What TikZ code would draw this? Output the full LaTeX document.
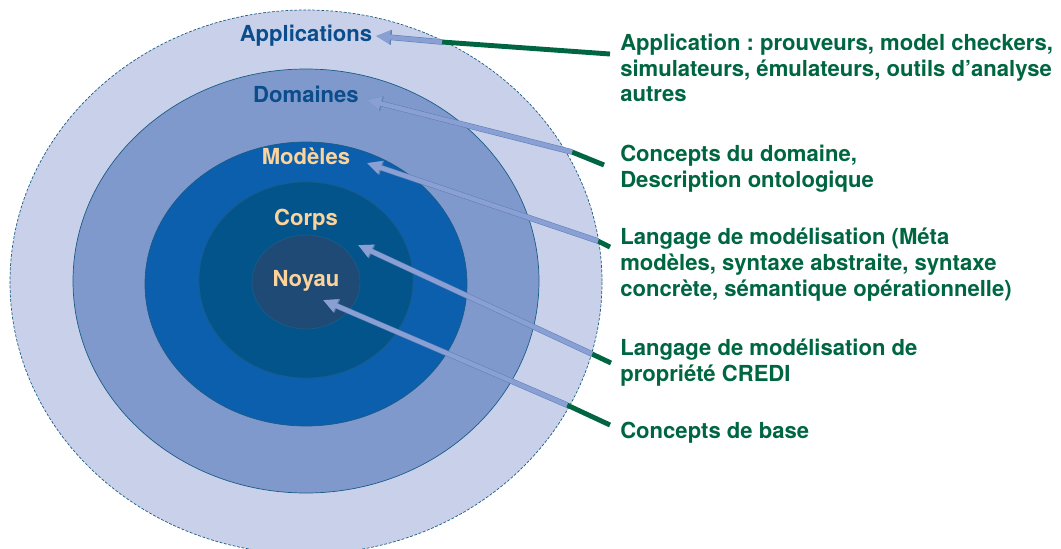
\documentclass[tikz,border=0pt]{standalone}
\usepackage{fontspec}
\setmainfont{TeX Gyre Heros}
\usetikzlibrary{arrows.meta}
\definecolor{appfill}{HTML}{C9D1EA}
\definecolor{domfill}{HTML}{8099CD}
\definecolor{modfill}{HTML}{0C5FAD}
\definecolor{corpsfill}{HTML}{03548B}
\definecolor{noyaufill}{HTML}{1E4A75}
\definecolor{ringline}{HTML}{1B5C86}
\definecolor{darklbl}{HTML}{0B4C8A}
\definecolor{lightlbl}{HTML}{FCD49B}
\definecolor{ptrfill}{HTML}{8AA0D5}
\definecolor{ptredge}{HTML}{5E82B5}
\definecolor{leadgreen}{HTML}{006642}

\begin{document}
\begin{tikzpicture}[x=0.025cm, y=-0.025cm,
    ring/.style={draw=ringline, line width=0.5pt},
    lbl/.style={font=\fontsize{15.7}{18.4}\selectfont\bfseries, anchor=base, inner sep=0pt},
    desc/.style={font=\fontsize{15.7}{18.4}\selectfont\bfseries\frenchspacing, text=leadgreen, align=left, anchor=north west, inner sep=0pt},
    ptr/.style={draw=ptrfill, line width=3.2pt, -{Triangle[length=10pt, width=9pt]},
        preaction={draw=ptredge, line width=4pt, -{Triangle[length=11pt, width=10pt]}}},
    lead/.style={draw=leadgreen, line width=3.5pt}]
    \clip (0,0) rectangle (1061,548);

    \path[ring, fill=appfill, dash pattern=on 2pt off 1.2pt] (306,282) ellipse [x radius=296, y radius=272];
    \path[ring, fill=domfill] (306,281) ellipse [x radius=233, y radius=212];
    \path[ring, fill=modfill] (306,284) ellipse [x radius=161, y radius=142];
    \path[ring, fill=corpsfill] (306,280) ellipse [x radius=107, y radius=98];
    \path[ring, fill=noyaufill] (306,282) ellipse [x radius=54, y radius=47];

    \coordinate (ta) at (442,42);  \coordinate (ha) at (376,36);  \coordinate (ea) at (610,54);
    \coordinate (td) at (572,152); \coordinate (hd) at (367,100); \coordinate (ed) at (604,165);
    \coordinate (tm) at (598,241); \coordinate (hm) at (367,163); \coordinate (em) at (610,247);
    \coordinate (tc) at (592,354); \coordinate (hc) at (358,245); \coordinate (ec) at (611,363);
    \coordinate (tn) at (567,405); \coordinate (hn) at (323,300); \coordinate (en) at (610,425);

    \draw[lead] (ta) -- (ea) (td) -- (ed) (tm) -- (em) (tc) -- (ec) (tn) -- (en);
    \draw[ptr] (ta) -- (ha);
    \draw[ptr] (td) -- (hd);
    \draw[ptr] (tm) -- (hm);
    \draw[ptr] (tc) -- (hc);
    \draw[ptr] (tn) -- (hn);

    \node[lbl, text=darklbl] (app) at (306,41) {Applications};
    \node[lbl, text=darklbl] (dom) at (306,102) {Domaines};
    \node[lbl, text=lightlbl] (mod) at (306,164) {Modèles};
    \node[lbl, text=lightlbl] (corps) at (306,225.5) {Corps};
    \node[lbl, text=lightlbl] (noyau) at (306,286) {Noyau};

    \node[desc] (d1) at (620,33.5) {Application : prouveurs, model checkers,\\simulateurs, émulateurs, outils d’analyse\\autres};
    \node[desc] (d2) at (620,144.5) {Concepts du domaine,\\Description ontologique};
    \node[desc] (d3) at (620,227.4) {Langage de modélisation (Méta\\modèles, syntaxe abstraite, syntaxe\\concrète, sémantique opérationnelle)};
    \node[desc] (d4) at (620,338.4) {Langage de modélisation de\\propriété CREDI};
    \node[desc] (d5) at (620,421.4) {Concepts de base};
\end{tikzpicture}
\end{document}
